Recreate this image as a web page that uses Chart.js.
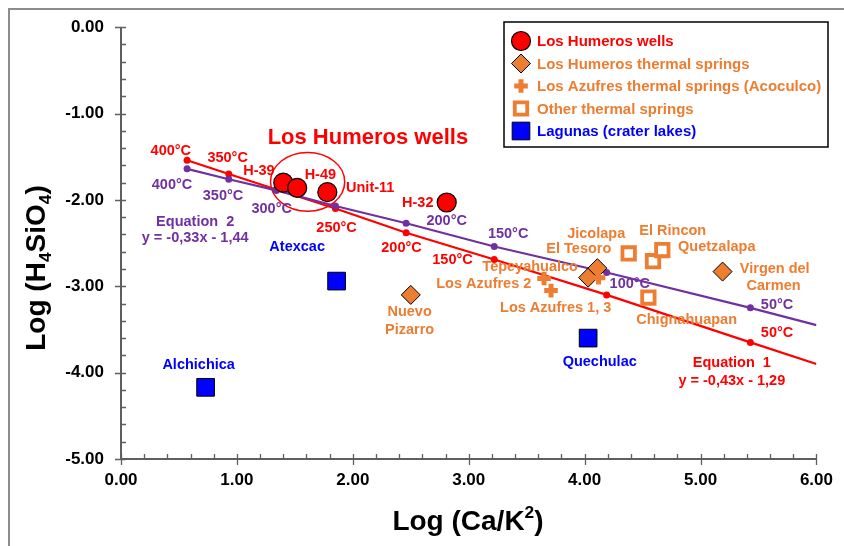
<!DOCTYPE html>
<html>
<head>
<meta charset="utf-8">
<script src="https://cdn.jsdelivr.net/npm/chart.js@4.4.1/dist/chart.umd.min.js"></script>
<style>
  body { margin: 0; background: #fff; }
  #wrap { width: 844px; height: 546px; }
</style>
</head>
<body>
<div id="wrap"><canvas id="chart" width="844" height="546"></canvas></div>
<script>
const RED = '#FF0000';
const PURPLE = '#7030A0';
const ORANGE = '#ED7D31';
const BLUE = '#0000FF';
const FONT = '"Liberation Sans", Arial, sans-serif';

// Los Humeros wells (H-39, ?, H-49/Unit-11, H-32)
const wellsX = [1.40, 1.52, 1.78, 2.81];
const wellsY = [-1.80, -1.86, -1.91, -2.03];

// Los Humeros thermal springs
const springsX = [2.50, 4.03, 4.11, 5.19];
const springsY = [-3.10, -2.90, -2.79, -2.83];

// Los Azufres thermal springs (Acoculco)
const azufresX = [3.65, 3.71, 4.12];
const azufresY = [-2.91, -3.05, -2.90];

// Other thermal springs
const otherX = [4.38, 4.59, 4.67, 4.55];
const otherY = [-2.62, -2.71, -2.58, -3.13];

// Lagunas (crater lakes): Atexcac, Alchichica, Quechulac
const lakesX = [1.86, 0.73, 4.03];
const lakesY = [-2.94, -4.17, -3.60];

// temperature points shared by both equilibrium lines (400..50 °C), then line end
const tempX = [0.57, 0.93, 1.34, 1.85, 2.46, 3.22, 4.19, 5.43, 6.00];
const eq1Y = [-1.54, -1.70, -1.88, -2.10, -2.38, -2.69, -3.10, -3.65, -3.90];
const eq2Y = [-1.64, -1.76, -1.89, -2.07, -2.27, -2.54, -2.84, -3.25, -3.45];

const xTicks = [0, 1, 2, 3, 4, 5, 6];
const yTicks = [0, -1, -2, -3, -4, -5];

// text annotations in data units
const redLabels = [
  ['400°C', 0.43, -1.43], ['350°C', 0.92, -1.51], ['H-39', 1.19, -1.66],
  ['H-49', 1.72, -1.71], ['Unit-11', 2.15, -1.86], ['H-32', 2.56, -2.04],
  ['250°C', 1.86, -2.32], ['200°C', 2.42, -2.56], ['150°C', 2.86, -2.70],
  ['50°C', 5.66, -3.54], ['Equation  1', 5.27, -3.89], ['y = -0,43x - 1,29', 5.27, -4.10]
];
const purpleLabels = [
  ['400°C', 0.44, -1.83], ['350°C', 0.88, -1.96], ['300°C', 1.30, -2.11],
  ['200°C', 2.81, -2.24], ['150°C', 3.34, -2.40], ['100°C', 4.39, -2.97],
  ['50°C', 5.66, -3.22], ['Equation  2', 0.64, -2.26], ['y = -0,33x - 1,44', 0.64, -2.44]
];
const orangeLabels = [
  ['Nuevo', 2.49, -3.30], ['Pizarro', 2.49, -3.51], ['Jicolapa', 4.10, -2.39],
  ['El Tesoro', 3.95, -2.57], ['El Rincon', 4.76, -2.36], ['Quetzalapa', 5.14, -2.55],
  ['Virgen del', 5.64, -2.80], ['Carmen', 5.63, -3.00], ['Tepeyahualco', 3.53, -2.78],
  ['Los Azufres 2', 3.13, -2.97], ['Los Azufres 1, 3', 3.75, -3.25], ['Chignahuapan', 4.88, -3.39]
];
const blueLabels = [
  ['Atexcac', 1.52, -2.54], ['Alchichica', 0.67, -3.91], ['Quechulac', 4.13, -3.88]
];

const pts = (xs, ys) => xs.map((v, i) => ({ x: v, y: ys[i] }));
const lineRadius = tempX.map((v, i) => i === tempX.length - 1 ? 0 : 3.5);

const datasets = [
  { label: 'Los Humeros wells', data: pts(wellsX, wellsY), pointStyle: 'circle', pointRadius: 9.5,
    backgroundColor: RED, borderColor: '#000', borderWidth: 1.2, textColor: RED, order: 5 },
  { label: 'Los Humeros thermal springs', data: pts(springsX, springsY), pointStyle: 'rectRot', pointRadius: 9.5,
    backgroundColor: ORANGE, borderColor: '#000', borderWidth: 1, textColor: ORANGE, order: 4 },
  { label: 'Los Azufres thermal springs (Acoculco)', data: pts(azufresX, azufresY), pointStyle: 'cross', pointRadius: 6.8,
    backgroundColor: ORANGE, borderColor: ORANGE, borderWidth: 5, textColor: ORANGE, order: 2 },
  { label: 'Other thermal springs', data: pts(otherX, otherY), pointStyle: 'rect', pointRadius: 8.8,
    backgroundColor: '#fff', borderColor: ORANGE, borderWidth: 3.8, textColor: ORANGE, order: 3 },
  { label: 'Lagunas (crater lakes)', data: pts(lakesX, lakesY), pointStyle: 'rect', pointRadius: 12.5,
    backgroundColor: BLUE, borderColor: '#000', borderWidth: 1, textColor: BLUE, order: 1 },
  { label: 'Equation 1', data: pts(tempX, eq1Y), showLine: true, borderColor: RED, borderWidth: 2.2,
    backgroundColor: RED, pointRadius: lineRadius, pointBorderWidth: 0, pointStyle: 'circle', order: 10 },
  { label: 'Equation 2', data: pts(tempX, eq2Y), showLine: true, borderColor: PURPLE, borderWidth: 2.2,
    backgroundColor: PURPLE, pointRadius: lineRadius, pointBorderWidth: 0, pointStyle: 'circle', order: 9 }
];

function drawRich(ctx, parts, cx, cy, size) {
  // parts: [text, shift] shift 0 normal, 1 superscript, -1 subscript
  const fnt = s => 'bold ' + s + 'px ' + FONT;
  let w = 0;
  parts.forEach(p => { ctx.font = fnt(p[1] ? size * 0.62 : size); w += ctx.measureText(p[0]).width; });
  let x = cx - w / 2;
  ctx.textAlign = 'left';
  ctx.textBaseline = 'middle';
  parts.forEach(p => {
    ctx.font = fnt(p[1] ? size * 0.62 : size);
    ctx.fillText(p[0], x, cy - p[1] * size * 0.33);
    x += ctx.measureText(p[0]).width;
  });
}

const overlay = {
  id: 'overlay',
  beforeDatasetsDraw(chart) {
    const { ctx, chartArea: a, scales: { x, y } } = chart;
    ctx.save();
    // outer frame (top and left edges visible)
    ctx.strokeStyle = '#8c8c8c';
    ctx.lineWidth = 2;
    ctx.beginPath();
    ctx.moveTo(9, 546); ctx.lineTo(9, 9); ctx.lineTo(844, 9);
    ctx.stroke();

    // axes with major and minor ticks
    ctx.strokeStyle = '#5f5f5f';
    ctx.lineWidth = 2;
    ctx.beginPath();
    ctx.moveTo(a.left, a.top); ctx.lineTo(a.left, a.bottom); ctx.lineTo(a.right, a.bottom);
    ctx.stroke();
    ctx.lineWidth = 1.3;
    ctx.beginPath();
    for (let i = 0; i <= 30; i++) {
      const px = Math.round(x.getPixelForValue(i * 0.2)) + 0.5;
      const major = i % 5 === 0;
      ctx.moveTo(px, a.bottom + (major ? 6 : 0));
      ctx.lineTo(px, a.bottom - 5);
    }
    for (let i = 0; i <= 25; i++) {
      const py = Math.round(y.getPixelForValue(-i * 0.2)) + 0.5;
      const major = i % 5 === 0;
      ctx.moveTo(a.left - (major ? 6 : 0), py);
      ctx.lineTo(a.left + 5, py);
    }
    ctx.stroke();

    // ellipse around the wells
    ctx.strokeStyle = RED;
    ctx.lineWidth = 1.5;
    const cx = x.getPixelForValue(1.61), cy = y.getPixelForValue(-1.79);
    const rx = x.getPixelForValue(1.61 + 0.32) - cx, ry = y.getPixelForValue(-1.79 - 0.34) - cy;
    ctx.beginPath();
    ctx.ellipse(cx, cy, rx, ry, 0, 0, Math.PI * 2);
    ctx.stroke();
    ctx.restore();
  },
  afterDatasetsDraw(chart) {
    const { ctx, scales: { x, y } } = chart;
    ctx.save();
    ctx.textAlign = 'center';
    ctx.textBaseline = 'middle';
    ctx.font = 'bold 14.5px ' + FONT;
    const put = (list, color) => {
      ctx.fillStyle = color;
      list.forEach(l => ctx.fillText(l[0], x.getPixelForValue(l[1]), y.getPixelForValue(l[2])));
    };
    put(redLabels, RED);
    put(purpleLabels, PURPLE);
    put(orangeLabels, ORANGE);
    put(blueLabels, BLUE);

    ctx.font = 'bold 22px ' + FONT;
    ctx.fillStyle = RED;
    ctx.fillText('Los Humeros wells', x.getPixelForValue(2.13), y.getPixelForValue(-1.28));

    // axis titles
    ctx.fillStyle = '#000';
    drawRich(ctx, [['Log (Ca/K', 0], ['2', 1], [')', 0]], 468, 522, 28);
    ctx.save();
    ctx.translate(37, 268);
    ctx.rotate(-Math.PI / 2);
    drawRich(ctx, [['Log (H', 0], ['4', -1], ['SiO', 0], ['4', -1], [')', 0]], 0, 0, 28);
    ctx.restore();

    // legend box
    ctx.fillStyle = '#fff';
    ctx.fillRect(504, 22, 324, 125);
    ctx.strokeStyle = '#000';
    ctx.lineWidth = 1.5;
    ctx.strokeRect(504, 22, 324, 125);
    const items = chart.data.datasets.filter(d => d.textColor);
    items.forEach((d, i) => {
      const ly = 41 + i * 22.5;
      ctx.fillStyle = d.backgroundColor;
      ctx.strokeStyle = d.borderColor;
      ctx.lineWidth = d.borderWidth;
      Chart.helpers.drawPoint(ctx, { pointStyle: d.pointStyle, radius: d.pointRadius, rotation: 0, borderWidth: d.borderWidth }, 521, ly);
      ctx.fillStyle = d.textColor;
      ctx.font = 'bold 15px ' + FONT;
      ctx.textAlign = 'left';
      ctx.fillText(d.label, 537, ly + 1);
    });
    ctx.restore();
  }
};

new Chart(document.getElementById('chart'), {
  type: 'scatter',
  data: { datasets },
  options: {
    responsive: false,
    animation: false,
    layout: { padding: { left: 0, top: 26, right: 26, bottom: 0 } },
    plugins: { legend: { display: false }, tooltip: { enabled: false } },
    scales: {
      x: {
        type: 'linear', min: 0, max: 6,
        afterBuildTicks: s => { s.ticks = xTicks.map(v => ({ value: v })); },
        afterFit: s => { s.height = 87; },
        grid: { display: false, drawTicks: false },
        border: { display: false },
        ticks: { color: '#000', padding: 11, font: { family: FONT, size: 17, weight: 'bold' }, callback: v => v.toFixed(2) }
      },
      y: {
        type: 'linear', min: -5, max: 0,
        afterBuildTicks: s => { s.ticks = yTicks.map(v => ({ value: v })); },
        afterFit: s => { s.width = 121; },
        grid: { display: false, drawTicks: false },
        border: { display: false },
        ticks: { color: '#000', padding: 17, font: { family: FONT, size: 17, weight: 'bold' }, callback: v => v.toFixed(2) }
      }
    }
  },
  plugins: [overlay]
});
</script>
</body>
</html>
